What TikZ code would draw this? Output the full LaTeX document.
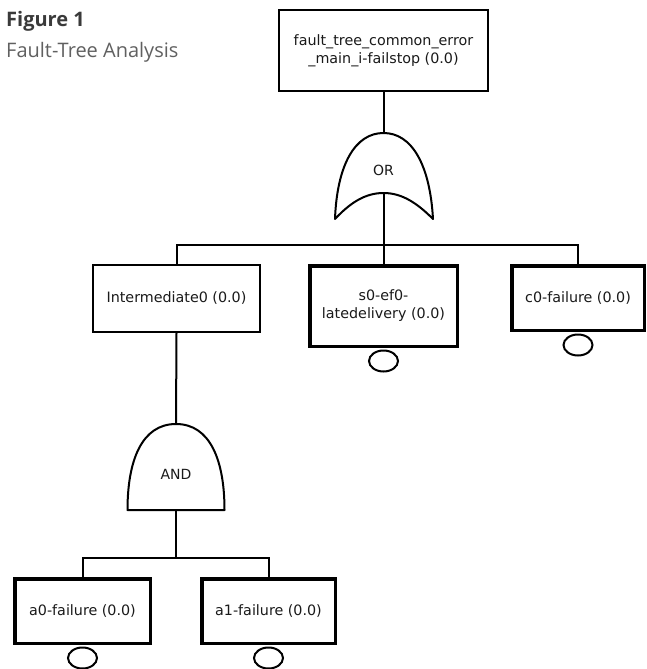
\documentclass[tikz,border=0pt]{standalone}
\usepackage{fontspec}
\setmainfont{DejaVu Sans}
\newfontfamily\titlefont{Open Sans}
\usetikzlibrary{shapes.geometric}
\definecolor{titlegray}{HTML}{3A3A3A}
\definecolor{subgray}{HTML}{606060}
\definecolor{inkgray}{HTML}{1A1A1A}
\begin{document}
\begin{tikzpicture}[x=1pt,y=-1pt,
  txt/.style={font=\fontsize{14.3}{18}\selectfont, text=inkgray, align=center},
  evbox/.style={txt, draw=black, line width=2pt, inner sep=0pt, fill=white},
  basicbox/.style={evbox, line width=3.5pt},
  evcircle/.style={draw=black, line width=2pt, ellipse, minimum width=29pt, minimum height=21pt, inner sep=0pt, anchor=north},
  wire/.style={draw=black, line width=2pt},
  gate/.style={draw=black, line width=2pt, fill=white, line join=round},
  gatelabel/.style={font=\fontsize{14}{16}\selectfont, text=inkgray}
]
\useasboundingbox (0,0) rectangle (647,669);

% title
\node[anchor=base west, inner sep=0pt, font=\titlefont\bfseries\fontsize{20}{24}\selectfont, text=titlegray] (fig) at (6,27) {Figure 1};
\node[anchor=base west, inner sep=0pt, font=\titlefont\fontsize{20}{24}\selectfont, text=subgray] (sub) at (6,57) {Fault-Tree Analysis};

% boxes
\node[evbox, minimum width=209pt, minimum height=81pt] (top) at (383.5,50.5) {fault\_tree\_common\_error\\\_main\_i-failstop (0.0)};
\node[evbox, minimum width=167pt, minimum height=67pt] (inter) at (176.5,298.5) {Intermediate0 (0.0)};
\node[basicbox, minimum width=147.5pt, minimum height=80.5pt] (s0) at (383.5,306) {s0-ef0-\\latedelivery (0.0)};
\node[basicbox, minimum width=132.5pt, minimum height=64.5pt] (c0) at (578,298) {c0-failure (0.0)};
\node[basicbox, minimum width=135.5pt, minimum height=64.5pt] (a0) at (82.5,611) {a0-failure (0.0)};
\node[basicbox, minimum width=133.5pt, minimum height=64.5pt] (a1) at (268.5,611) {a1-failure (0.0)};

% basic event circles
\node[evcircle] (s0c) at ([yshift=-1.5pt]s0.south) {};
\node[evcircle] (c0c) at ([yshift=-1.5pt]c0.south) {};
\node[evcircle] (a0c) at ([yshift=-1.5pt]a0.south) {};
\node[evcircle] (a1c) at ([yshift=-1.5pt]a1.south) {};

% gate coordinates
\coordinate (orTop) at (383.5,133);
\coordinate (orIn) at (383.5,193);
\coordinate (bus1) at (383.5,245);
\coordinate (andTop) at (176,424);
\coordinate (andBot) at (176,510);
\coordinate (bus2) at (176,558);

% OR gate
\path[gate] (335,219) .. controls (337,165) and (355,133) .. (orTop)
  .. controls (412,133) and (430,165) .. (433,219)
  .. controls (417,203) and (402,193) .. (orIn)
  .. controls (365,193) and (350,203) .. cycle;
\node[gatelabel] (orlab) at (383.5,170) {OR};

% AND gate
\path[gate] (127.5,510) .. controls (127.5,460) and (142,424) .. (andTop)
  .. controls (210,424) and (224.5,460) .. (224.5,510) -- cycle;
\node[gatelabel] (andlab) at (176,474) {AND};

% connectors
\draw[wire] (top.south) -- (orTop);
\draw[wire] (orIn) -- (bus1);
\draw[wire] (inter.north) |- (bus1) -| (c0.north);
\draw[wire] (bus1) -- (s0.north);
\draw[wire] (inter.south) -- (andTop);
\draw[wire] (andBot) -- (bus2);
\draw[wire] (a0.north) |- (bus2) -| (a1.north);
\end{tikzpicture}
\end{document}
